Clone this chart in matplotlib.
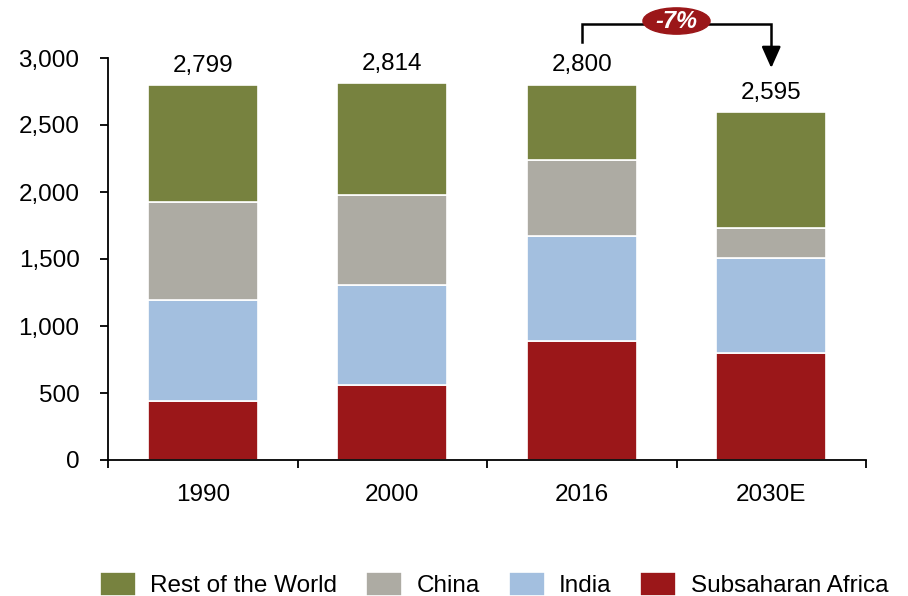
import numpy as np
import matplotlib.pyplot as plt
from matplotlib.patches import Ellipse

plt.rcParams['font.family'] = ['Liberation Sans', 'DejaVu Sans']

years = ['1990', '2000', '2016', '2030E']
africa = np.array([440, 560, 888, 799])
india = np.array([754, 746, 784, 708])
china = np.array([731, 672, 567, 224])
rest = np.array([874, 836, 561, 864])
totals = [2799, 2814, 2800, 2595]
change_label = '-7%'

colors = {
    'Rest of the World': '#77823f',
    'China': '#adaba3',
    'India': '#a3bfdf',
    'Subsaharan Africa': '#9b1719',
}
fs = 17.5

fig = plt.figure(figsize=(9.08, 5.96), dpi=100)
ax = fig.add_axes([108 / 908, 1 - 460 / 596, 758 / 908, 402 / 596])

x = np.arange(len(years))
w = 0.58
bottom = np.zeros(len(years))
handles = {}
for name, vals in [('Subsaharan Africa', africa), ('India', india),
                   ('China', china), ('Rest of the World', rest)]:
    handles[name] = ax.bar(x, vals, w, bottom=bottom, color=colors[name],
                           edgecolor='white', linewidth=1.2, label=name)
    bottom += vals

for xi, t in zip(x, totals):
    ax.annotate(f'{t:,}', (xi, t), xytext=(0, 6), textcoords='offset points',
                ha='center', va='bottom', fontsize=fs)

ax.set_xlim(-0.5, 3.5)
ax.set_ylim(0, 3000)
ax.set_yticks(range(0, 3001, 500))
ax.yaxis.set_major_formatter(plt.FuncFormatter(lambda v, p: f'{int(v):,}'))
ax.set_xticks(x)
ax.set_xticklabels(years)
ax.set_xticks(np.arange(-0.5, 3.6, 1), minor=True)
ax.tick_params(axis='x', which='major', length=0, pad=17, labelsize=fs)
ax.tick_params(axis='x', which='minor', length=6, width=1.3, direction='out')
ax.tick_params(axis='y', length=6, width=1.3, direction='out', pad=14.5,
               labelsize=fs)
for s in ['top', 'right']:
    ax.spines[s].set_visible(False)
for s in ['left', 'bottom']:
    ax.spines[s].set_linewidth(1.3)

# bracket showing the change from 2016 to 2030E
y_line = 3254
ax.plot([2, 2, 3, 3], [3119, y_line, y_line, 3060], color='black', lw=1.8,
        clip_on=False, solid_joinstyle='miter')
ax.annotate('', xy=(3, 2925), xytext=(3, 3070),
            arrowprops=dict(arrowstyle='-|>,head_length=1.3,head_width=0.58',
                            color='black', lw=1.8, shrinkA=0, shrinkB=0),
            annotation_clip=False)
ax.add_patch(Ellipse((2.5, 3276), 0.354, 196, color='#9b1719', clip_on=False,
                     zorder=5))
ax.text(2.5, 3270, change_label, ha='center', va='center', color='white',
        fontsize=17, fontweight='bold', fontstyle='italic', zorder=6,
        clip_on=False)

order = ['Rest of the World', 'China', 'India', 'Subsaharan Africa']
fig.legend([handles[k] for k in order], order, loc='lower left',
           bbox_to_anchor=(100 / 908, -1.5 / 596), ncol=4, frameon=False,
           fontsize=fs, handlelength=1.48, handleheight=1.15,
           handletextpad=0.58, columnspacing=1.2, borderpad=0,
           borderaxespad=0)

fig.savefig('out.png', dpi=100)
